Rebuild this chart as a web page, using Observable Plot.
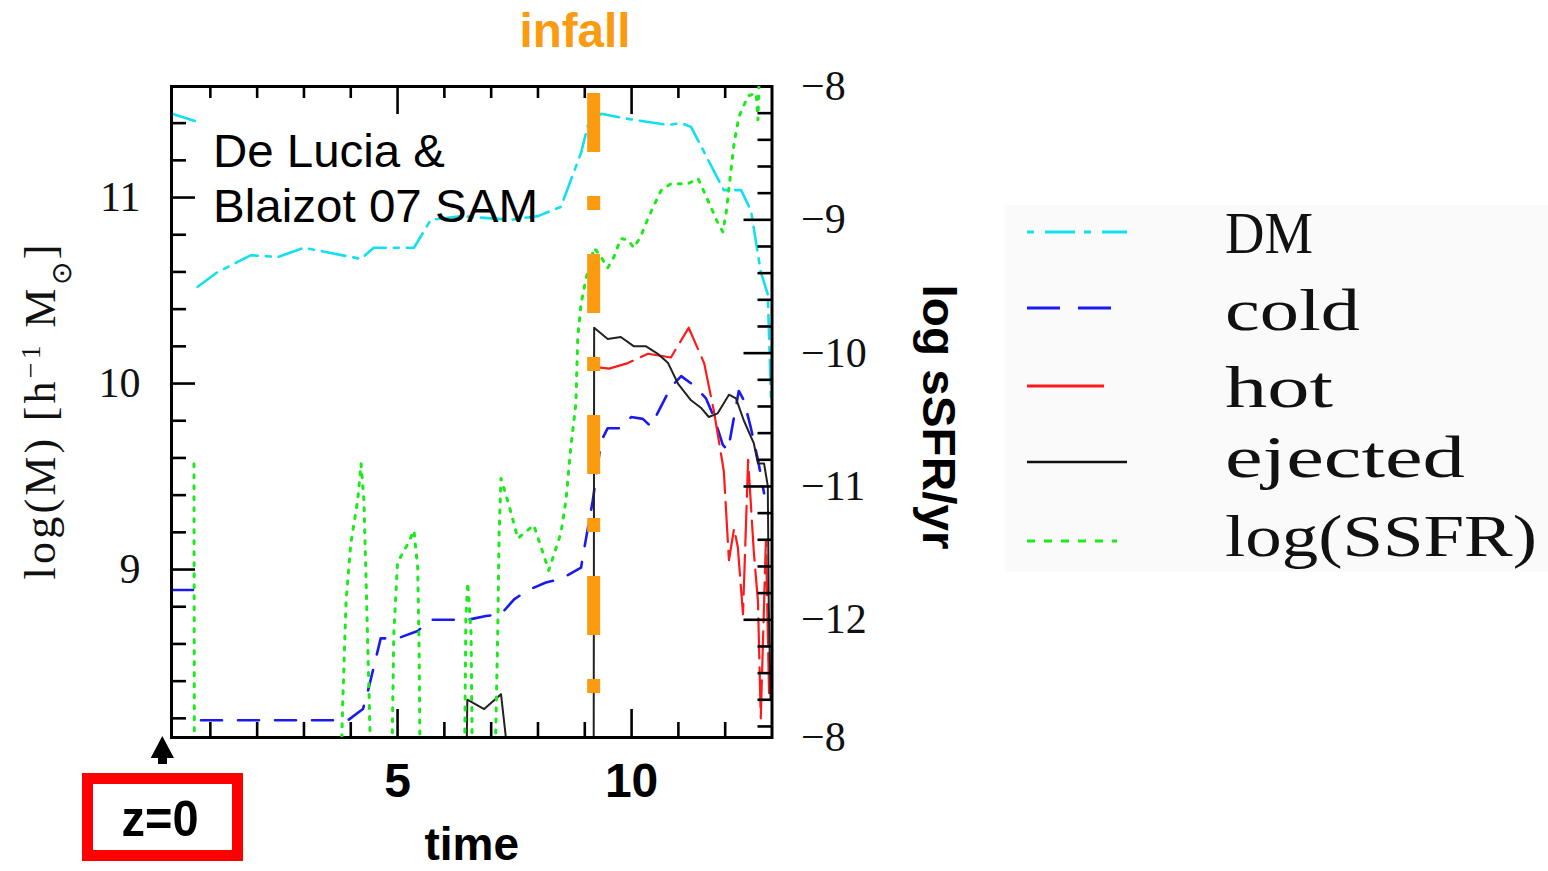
<!DOCTYPE html>
<html>
<head>
<meta charset="utf-8">
<script src="https://cdn.jsdelivr.net/npm/d3@7"></script>
<script src="https://cdn.jsdelivr.net/npm/@observablehq/plot@0.6"></script>
<style>
html,body{margin:0;padding:0;background:#fff;}
#page{position:relative;width:1548px;height:871px;overflow:hidden;background:#fff;}
#main{position:absolute;left:0;top:0;}
#ssfr{position:absolute;left:0;top:0;}
#anno{position:absolute;left:0;top:0;pointer-events:none;}
</style>
</head>
<body>
<div id="page">
  <div id="main"></div>
  <div id="ssfr"></div>
  <svg id="anno" width="1548" height="871" xmlns="http://www.w3.org/2000/svg">
    <text x="575" y="47" text-anchor="middle" font-family="Liberation Sans" font-weight="bold" font-size="48" fill="#FA9B10" textLength="111" lengthAdjust="spacingAndGlyphs">infall</text>
    <text x="213" y="167" font-family="Liberation Sans" font-size="46" fill="#000" textLength="232" lengthAdjust="spacingAndGlyphs">De Lucia &amp;</text>
    <text x="213" y="222" font-family="Liberation Sans" font-size="46" fill="#000" textLength="325" lengthAdjust="spacingAndGlyphs">Blaizot 07 SAM</text>
    <text transform="translate(55,412) rotate(-90)" text-anchor="middle" font-family="Liberation Serif" font-size="44" fill="#111" textLength="335" lengthAdjust="spacing">log(M) [h<tspan baseline-shift="super" font-size="28">−1</tspan> M<tspan baseline-shift="sub" font-size="28">⊙</tspan>]</text>
    <text transform="translate(923,417) rotate(90)" text-anchor="middle" font-family="Liberation Sans" font-weight="bold" font-size="46" fill="#000" textLength="265" lengthAdjust="spacingAndGlyphs">log sSFR/yr</text>
    <rect x="87.5" y="778.5" width="150" height="77" fill="none" stroke="#FF0000" stroke-width="11"/>
    <text x="160" y="836" text-anchor="middle" font-family="Liberation Sans" font-weight="bold" font-size="50" fill="#000" textLength="77" lengthAdjust="spacingAndGlyphs">z=0</text>
    <polygon points="150.7,758 162.3,736 174,758" fill="#000"/>
    <rect x="158" y="756" width="9" height="8" fill="#000"/>
    <g id="legend">
      <rect x="1005" y="205" width="543" height="367" fill="#fafafa"/>
      <line x1="1027" y1="232" x2="1127" y2="232" stroke="#10E0F0" stroke-width="3" stroke-dasharray="7,11,30,9"/>
      <line x1="1027" y1="308" x2="1112" y2="308" stroke="#1A1AF0" stroke-width="3" stroke-dasharray="33,18"/>
      <line x1="1027" y1="386" x2="1104" y2="386" stroke="#FF1A1A" stroke-width="3"/>
      <line x1="1027" y1="462" x2="1127" y2="462" stroke="#111" stroke-width="2.5"/>
      <line x1="1027" y1="541" x2="1117" y2="541" stroke="#1BEB1B" stroke-width="3" stroke-dasharray="8,9"/>
      <g font-family="Liberation Serif" font-size="60" fill="#111">
        <text x="1225" y="253" textLength="88" lengthAdjust="spacingAndGlyphs">DM</text>
        <text x="1225" y="330" textLength="135" lengthAdjust="spacingAndGlyphs">cold</text>
        <text x="1225" y="407" textLength="108" lengthAdjust="spacingAndGlyphs">hot</text>
        <text x="1225" y="477" textLength="240" lengthAdjust="spacingAndGlyphs">ejected</text>
        <text x="1225" y="556" textLength="312" lengthAdjust="spacingAndGlyphs">log(SSFR)</text>
      </g>
    </g>
  </svg>
</div>
<script>
// ---------- data (time, masses in log(M), sSFR in log) ----------
const dmTime  = [0.18,0.69,0.71,0.73,1.16,1.87,2.44,3.00,4.22,4.49,5.35,5.71,6.35,7.42,8.00,8.49,8.92,9.07,9.35,9.99,10.78,11.06,11.27,11.97,12.34,12.55,12.76,12.91,12.98];
const dmMass  = [11.45,11.41,NaN,10.52,10.60,10.69,10.68,10.73,10.67,10.73,10.73,10.88,10.90,10.88,10.90,10.95,11.24,11.39,11.45,11.42,11.39,11.40,11.38,11.04,11.04,10.93,10.60,10.48,9.91];

const coldTime = [0.20,0.63,0.70,0.80,3.57,3.94,4.26,4.37,4.64,5.00,5.43,5.71,6.50,6.89,7.21,7.49,7.79,8.17,8.49,8.92,8.98,9.17,9.35,9.49,9.77,9.99,10.24,10.41,10.84,11.06,11.33,11.59,11.76,11.95,12.06,12.29,12.40,12.55,12.70,12.83];
const coldMass = [8.89,8.89,NaN,8.19,8.19,8.19,8.25,8.35,8.63,8.63,8.67,8.73,8.73,8.75,8.76,8.84,8.89,8.93,8.95,9.01,9.10,9.37,9.69,9.76,9.76,9.82,9.81,9.77,9.98,10.04,9.99,9.92,9.82,9.67,9.64,9.96,9.91,9.76,9.59,9.41];

const hotTime = [9.20,9.52,9.92,10.35,10.84,11.22,11.55,11.76,11.97,12.08,12.19,12.27,12.38,12.49,12.61,12.70,12.76,12.87,12.94];
const hotMass = [10.09,10.08,10.11,10.16,10.14,10.30,10.11,9.85,9.53,9.05,9.22,9.12,8.76,9.59,9.10,8.83,8.20,9.16,8.30];

const ejectedTime = [0.17,6.47,6.49,6.85,7.21,7.38,9.19,9.20,9.49,9.77,10.05,10.31,10.56,10.78,10.99,11.27,11.48,11.65,11.84,12.08,12.23,12.40,12.61,12.70,12.83,12.91,12.93,12.97];
const ejectedMass = [7.9,7.9,8.30,8.25,8.33,7.95,7.9,10.30,10.24,10.25,10.20,10.20,10.16,10.11,10.00,9.91,9.87,9.82,9.84,9.94,9.92,9.80,9.68,9.57,9.57,9.45,8.83,8.30];

const ssfrTime = [0.65,0.66,3.76,3.83,3.90,4.00,4.15,4.22,4.28,4.32,4.46,
  4.86,4.92,5.00,5.22,5.35,5.43,5.46,5.49,
  6.42,6.46,6.50,6.57,6.61,
  7.06,7.14,7.17,7.21,7.38,7.57,7.91,8.23,8.49,8.60,8.70,8.81,8.85,8.92,9.02,
  9.20,9.35,9.49,9.62,9.77,9.92,10.05,10.20,10.35,10.48,10.63,10.84,11.20,11.42,11.55,11.70,11.84,11.95,12.02,12.08,12.19,12.29,12.49,12.66,12.70,12.72,12.75];
const ssfrValue = [-10.83,-13.5,-13.5,-12.61,-11.86,-11.43,-11.10,-10.83,-11.10,-11.61,-13.5,
  -13.5,-12.10,-11.57,-11.43,-11.33,-11.61,-12.23,-13.5,
  -13.5,-11.98,-11.72,-12.10,-13.5,
  -13.5,-12.10,-11.35,-10.94,-11.14,-11.39,-11.29,-11.63,-11.35,-11.10,-10.71,-10.38,-9.88,-9.63,-9.45,
  -9.21,-9.28,-9.36,-9.28,-9.14,-9.15,-9.21,-9.12,-8.99,-8.89,-8.78,-8.73,-8.73,-8.69,-8.79,-8.91,-9.02,-9.09,-8.95,-8.76,-8.43,-8.23,-8.07,-8.05,-8.25,-8.0,-7.9];

const infallTime = [9.19];

// ticks and labels
const xMinorTicks = [1,2,3,4,6,7,8,9,11,12];
const xMajorTicks = [5,10];
const xTickLabels = [5,10];
const massMinorTicks = [8.2,8.4,8.6,8.8,9.2,9.4,9.6,9.8,10.2,10.4,10.6,10.8,11.2,11.4];
const massMajorTicks = [9,10,11];
const massTickLabels = [9,10,11];
const ssfrMinorTicks = [-8.2,-8.4,-8.6,-8.8,-9.2,-9.4,-9.6,-9.8,-10.2,-10.4,-10.6,-10.8,-11.2,-11.4,-11.6,-11.8,-12.2,-12.4,-12.6,-12.8];
const ssfrMajorTicks = [-9,-10,-11,-12];
const ssfrTickLabels = [-8,-9,-10,-11,-12];
const ssfrCornerLabel = ["−8"];
const xLabel = ["time"];

// ---------- layout ----------
const W = 1548, H = 871;
const ML = 171, MR = 776.5, MT = 86, MB = 134;
const FW = W - ML - MR, FH = H - MT - MB;
const xDomain = [0.17, 13.0];
const massDomain = [8.097, 11.597];
const ssfrDomain = [-12.883, -8.0];

const rows = (T, V) => T.map((t, i) => ({t, v: V[i]}));

const tickStyle = {stroke: "#000", strokeWidth: 2.6};

const main = Plot.plot({
  width: W, height: H,
  marginLeft: ML, marginRight: MR, marginTop: MT, marginBottom: MB,
  x: {domain: xDomain},
  y: {domain: massDomain},
  style: {background: "transparent", fontFamily: "Liberation Serif", overflow: "visible"},
  marks: [
    Plot.line(rows(dmTime, dmMass), {x: "t", y: "v", stroke: "#10E0F0", strokeWidth: 2.6, strokeDasharray: "24,8,5,8", clip: true}),
    Plot.line(rows(coldTime, coldMass), {x: "t", y: "v", stroke: "#1A1AF0", strokeWidth: 2.6, strokeDasharray: "21,16", clip: true}),
    Plot.line(rows(hotTime, hotMass), {x: "t", y: "v", stroke: "#FF1A1A", strokeWidth: 2.2, strokeDasharray: "40,9", clip: true}),
    Plot.line(rows(ejectedTime, ejectedMass), {x: "t", y: "v", stroke: "#222", strokeWidth: 2, clip: true}),
    Plot.tickX(xMinorTicks, {x: d => d, insetTop: FH - 15, ...tickStyle}),
    Plot.tickX(xMajorTicks, {x: d => d, insetTop: FH - 28, ...tickStyle}),
    Plot.tickX(xMinorTicks, {x: d => d, insetBottom: FH - 12, ...tickStyle}),
    Plot.tickX(xMajorTicks, {x: d => d, insetBottom: FH - 28, ...tickStyle}),
    Plot.tickY(massMinorTicks, {y: d => d, insetRight: FW - 15, ...tickStyle}),
    Plot.tickY(massMajorTicks, {y: d => d, insetRight: FW - 24, ...tickStyle}),
    Plot.axisX(xTickLabels, {tickSize: 0, tickPadding: 25, fontSize: 48, fontWeight: "bold", fontFamily: "Liberation Sans", fill: "#000", label: null, tickFormat: d => String(d)}),
    Plot.axisY(massTickLabels, {tickSize: 0, tickPadding: 31, fontSize: 42, fontFamily: "Liberation Serif", fill: "#111", label: null, tickFormat: d => String(d)}),
    Plot.text(xLabel, {text: d => d, frameAnchor: "bottom", lineAnchor: "middle", dy: 108, fontSize: 46, fontWeight: "bold", fontFamily: "Liberation Sans", fill: "#000"}),
    Plot.frame({stroke: "#000", strokeWidth: 3})
  ]
});
document.getElementById("main").appendChild(main);

const ssfr = Plot.plot({
  width: W, height: H,
  marginLeft: ML, marginRight: MR, marginTop: MT, marginBottom: MB,
  x: {domain: xDomain, axis: null},
  y: {domain: ssfrDomain},
  style: {background: "transparent", fontFamily: "Liberation Serif", overflow: "visible"},
  marks: [
    Plot.line(rows(ssfrTime, ssfrValue), {x: "t", y: "v", stroke: "#1BEB1B", strokeWidth: 3, strokeDasharray: "3,8", clip: true}),
    Plot.tickY(ssfrMinorTicks, {y: d => d, insetLeft: FW - 14, ...tickStyle}),
    Plot.tickY(ssfrMajorTicks, {y: d => d, insetLeft: FW - 28, ...tickStyle}),
    Plot.axisY(ssfrTickLabels, {anchor: "right", tickSize: 0, tickPadding: 29, fontSize: 42, fontFamily: "Liberation Serif", fill: "#111", label: null, tickFormat: d => "−" + Math.abs(d), style: {letterSpacing: "4px"}}),
    Plot.text(ssfrCornerLabel, {text: d => d, frameAnchor: "bottom-right", lineAnchor: "middle", dx: 29, textAnchor: "start", fontSize: 42, fontFamily: "Liberation Serif", fill: "#111"}),
    Plot.ruleX(infallTime, {x: d => d, stroke: "#FA9B10", strokeWidth: 13, strokeDasharray: "59,44,14,44", strokeDashoffset: 154})
  ]
});
document.getElementById("ssfr").appendChild(ssfr);
</script>
</body>
</html>
